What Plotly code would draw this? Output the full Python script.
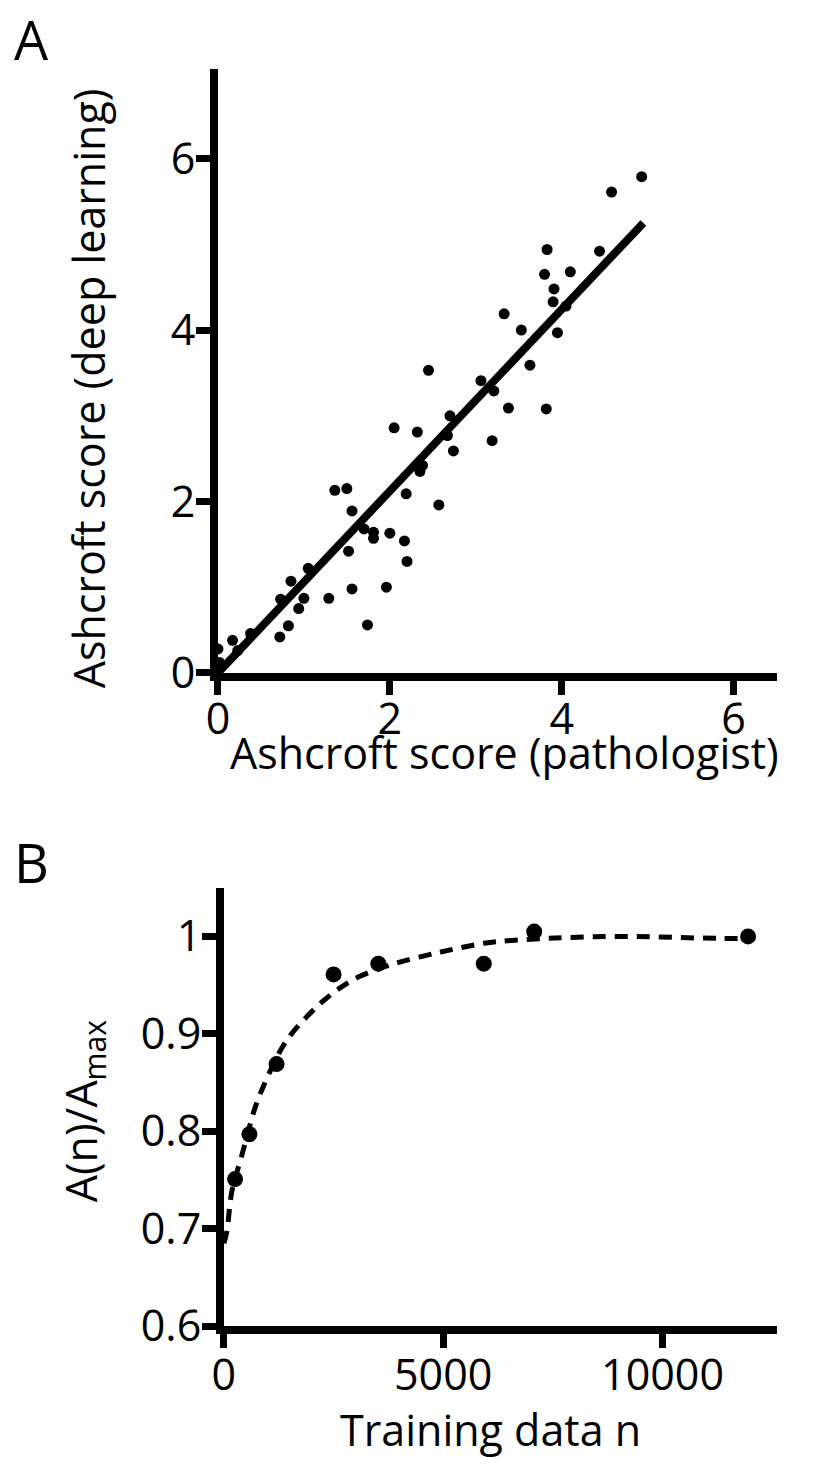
import plotly.graph_objects as go

W, H = 817, 1466

# ---- Panel A data: Ashcroft score pathologist vs deep learning ----
path_score = [4.93, 4.58, 3.83, 4.44, 3.80, 4.10, 3.91, 3.90, 4.05, 3.33, 3.53, 3.95,
              2.45, 3.63, 3.06, 3.21, 3.38, 3.82, 2.70, 2.32, 2.67, 3.19, 2.74, 2.38,
              2.35, 2.19, 2.57, 2.05, 1.36, 1.50, 1.56, 1.70, 1.81, 1.81, 2.00, 2.17,
              2.20, 1.52, 1.05, 0.85, 0.73, 1.00, 0.94, 1.29, 1.56, 1.96, 1.74, 0.82,
              0.72, 0.38, 0.17, 0.23, 0.00, 0.02]
dl_score = [5.79, 5.61, 4.94, 4.92, 4.65, 4.68, 4.48, 4.33, 4.28, 4.19, 4.00, 3.97,
            3.53, 3.59, 3.41, 3.29, 3.09, 3.08, 3.00, 2.81, 2.77, 2.71, 2.59, 2.42,
            2.35, 2.09, 1.96, 2.86, 2.13, 2.15, 1.89, 1.68, 1.64, 1.57, 1.63, 1.54,
            1.30, 1.42, 1.22, 1.07, 0.86, 0.87, 0.75, 0.87, 0.98, 1.00, 0.56, 0.55,
            0.42, 0.46, 0.38, 0.26, 0.28, 0.12]
fit_a_x = [0.0, 4.95]
fit_a_y = [0.0, 5.25]
ticks_a = [0, 2, 4, 6]

# ---- Panel B data: relative accuracy vs training data size ----
train_n = [256, 583, 1202, 2501, 3522, 5925, 7075, 11950]
acc_rel = [0.751, 0.797, 0.869, 0.961, 0.972, 0.972, 1.005, 1.000]
curve_n = [0, 68, 181, 408, 703, 900, 1315, 1542, 1921, 2297, 2676, 3054, 3810,
           4943, 5925, 6304, 7363, 8873, 11293, 11950]
curve_acc = [0.685, 0.697, 0.738, 0.775, 0.823, 0.846, 0.885, 0.900, 0.919, 0.935,
             0.948, 0.958, 0.971, 0.984, 0.993, 0.995, 0.998, 1.000, 0.998, 0.998]
ticks_bx = [0, 5000, 10000]
ticks_bx_text = ["0", "5000", "10000"]
ticks_by = [0.6, 0.7, 0.8, 0.9, 1.0]
ticks_by_text = ["0.6", "0.7", "0.8", "0.9", "1"]

FONT = "Open Sans"
FS = 43


def px(x):
    return x / W


def py(y):
    return 1 - y / H


fig = go.Figure()
fig.add_trace(go.Scatter(x=fit_a_x, y=fit_a_y, mode="lines",
                         line=dict(color="black", width=8),
                         xaxis="x", yaxis="y", showlegend=False))
fig.add_trace(go.Scatter(x=path_score, y=dl_score, mode="markers",
                         marker=dict(color="black", size=11),
                         cliponaxis=False, xaxis="x", yaxis="y", showlegend=False))
fig.add_trace(go.Scatter(x=curve_n, y=curve_acc, mode="lines", line_shape="spline",
                         line=dict(color="black", width=5, dash="13px,9px"),
                         xaxis="x2", yaxis="y2", showlegend=False))
fig.add_trace(go.Scatter(x=train_n, y=acc_rel, mode="markers",
                         marker=dict(color="black", size=16),
                         cliponaxis=False, xaxis="x2", yaxis="y2", showlegend=False))

axis_common = dict(showline=True, linecolor="black", linewidth=8, ticks="outside",
                   ticklen=14, tickwidth=7, tickcolor="black", showgrid=False,
                   zeroline=False, tickfont=dict(family=FONT, size=FS, color="black"),
                   fixedrange=True)

fig.update_layout(
    width=W, height=H,
    margin=dict(l=0, r=0, t=0, b=0),
    paper_bgcolor="white", plot_bgcolor="white",
    font=dict(family=FONT, color="black"),
    xaxis=dict(domain=[px(209), px(776)], range=[0, 6.5], tickvals=ticks_a,
               anchor="y", ticklabelstandoff=-12, **axis_common),
    yaxis=dict(domain=[py(686), py(70)], range=[0, 7.05], tickvals=ticks_a,
               anchor="x", ticklabelstandoff=-8, **axis_common),
    xaxis2=dict(domain=[px(215), px(776)], range=[0, 12600], tickvals=ticks_bx,
                ticktext=ticks_bx_text, anchor="y2", ticklabelstandoff=-10,
                **axis_common),
    yaxis2=dict(domain=[py(1352), py(905)], range=[0.6, 1.05], tickvals=ticks_by,
                ticktext=ticks_by_text, anchor="x2", ticklabelstandoff=-8,
                **axis_common),
    annotations=[
        dict(text="A", x=px(0), y=py(0), xref="paper", yref="paper",
             xanchor="left", yanchor="top", showarrow=False,
             font=dict(family=FONT, size=54, color="black")),
        dict(text="B", x=px(0), y=py(879), xref="paper", yref="paper",
             xanchor="left", yanchor="middle", showarrow=False,
             font=dict(family=FONT, size=54, color="black")),
        dict(text="Ashcroft score (pathologist)", x=px(500), y=py(767),
             xref="paper", yref="paper", xanchor="center", yanchor="middle",
             showarrow=False, font=dict(family=FONT, size=FS, color="black")),
        dict(text="Ashcroft score (deep learning)", x=px(78), y=py(396),
             xref="paper", yref="paper", xanchor="center", yanchor="middle",
             textangle=-90, showarrow=False,
             font=dict(family=FONT, size=FS, color="black")),
        dict(text="A(n)/A<sub>max</sub>", x=px(72), y=py(1133),
             xref="paper", yref="paper", xanchor="center", yanchor="middle",
             textangle=-90, showarrow=False,
             font=dict(family=FONT, size=FS, color="black")),
        dict(text="Training data n", x=px(486), y=py(1457),
             xref="paper", yref="paper", xanchor="center", yanchor="middle",
             showarrow=False, font=dict(family=FONT, size=FS, color="black")),
    ],
)

fig.write_html(
    "out.html",
    config={"displayModeBar": False},
    post_script="document.body.style.margin='0';document.body.style.padding='0';"
                "document.body.style.overflow='hidden';",
)
